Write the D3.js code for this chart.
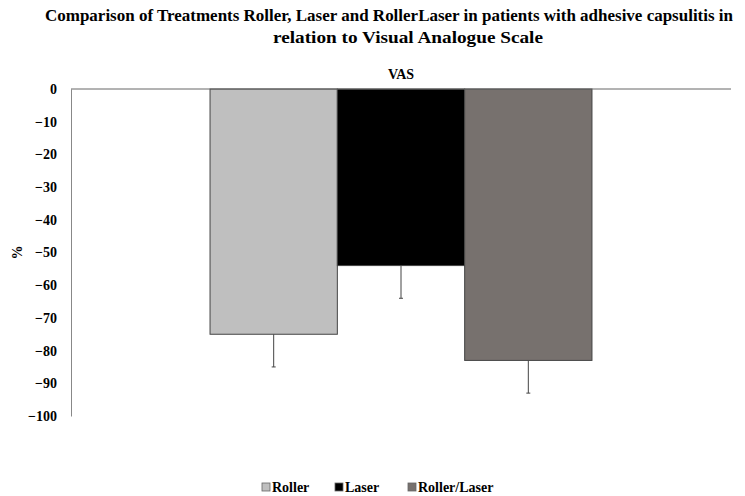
<!DOCTYPE html>
<html lang="en">
<head>
    <meta charset="UTF-8">
    <title>VAS</title>
    <script src="https://cdnjs.cloudflare.com/ajax/libs/d3/7.8.5/d3.min.js"></script>
    <style>
        body { margin: 0; background: #fff; }
    </style>
</head>
<body>
    <svg width="745" height="496"></svg>
    <script>
        "use strict";

        const categories = ["VAS"];
        const series = ["Roller", "Laser", "Roller/Laser"];
        const means = [-75, -54, -83];
        const errors = [10, 10, 10];
        const tickValues = [0, -10, -20, -30, -40, -50, -60, -70, -80, -90, -100];
        const colors = ["#bfbfbf", "#000000", "#77716e"];

        const FONT = "Liberation Serif";
        const svg = d3.select("svg");
        const margin = { left: 71, right: 14, top: 89, bottom: 79 };
        const width = 745, height = 496;

        const x = d3.scaleBand().domain(categories).range([margin.left, width - margin.right]).paddingInner(0).paddingOuter(0.364);
        const xs = d3.scaleBand().domain(series).range([0, x.bandwidth()]);
        const y = d3.scaleLinear().domain([0, -100]).range([margin.top, height - margin.bottom - 1]);

        // title
        svg.append("text")
            .attr("x", 389).attr("y", 21)
            .attr("text-anchor", "middle")
            .attr("font-family", FONT).attr("font-weight", "bold").attr("font-size", 17)
            .attr("textLength", 688).attr("lengthAdjust", "spacingAndGlyphs")
            .text("Comparison of Treatments Roller, Laser and RollerLaser in patients with adhesive capsulitis in");
        svg.append("text")
            .attr("x", 408).attr("y", 43)
            .attr("text-anchor", "middle")
            .attr("font-family", FONT).attr("font-weight", "bold").attr("font-size", 17)
            .attr("textLength", 270).attr("lengthAdjust", "spacingAndGlyphs")
            .text("relation to Visual Analogue Scale");

        svg.append("text")
            .attr("x", x("VAS") + x.bandwidth() / 2).attr("y", 79)
            .attr("text-anchor", "middle")
            .attr("font-family", FONT).attr("font-weight", "bold").attr("font-size", 14)
            .text("VAS");

        // bars
        const g = svg.append("g").attr("transform", `translate(${x("VAS")},0)`);
        g.selectAll("rect")
            .data(series)
            .enter()
            .append("rect")
            .attr("x", d => xs(d))
            .attr("width", xs.bandwidth())
            .attr("y", y(0))
            .attr("height", (d, i) => y(means[i]) - y(0))
            .attr("fill", (d, i) => colors[i])
            .attr("stroke", "#444")
            .attr("stroke-width", 1);

        // error bars (downward only)
        const eb = g.selectAll("g.err")
            .data(series)
            .enter()
            .append("g").attr("class", "err");
        eb.append("line")
            .attr("x1", d => xs(d) + xs.bandwidth() / 2)
            .attr("x2", d => xs(d) + xs.bandwidth() / 2)
            .attr("y1", (d, i) => y(means[i]))
            .attr("y2", (d, i) => y(means[i] - errors[i]))
            .attr("stroke", "#444").attr("stroke-width", 1);
        eb.append("line")
            .attr("x1", d => xs(d) + xs.bandwidth() / 2 - 2)
            .attr("x2", d => xs(d) + xs.bandwidth() / 2 + 2)
            .attr("y1", (d, i) => y(means[i] - errors[i]))
            .attr("y2", (d, i) => y(means[i] - errors[i]))
            .attr("stroke", "#444").attr("stroke-width", 1);

        // y axis
        const yAxis = svg.append("g")
            .attr("transform", `translate(${margin.left},0)`)
            .call(d3.axisLeft(y).tickValues(tickValues).tickSize(0).tickPadding(14))
            .attr("font-family", FONT).attr("font-size", 14).attr("font-weight", "bold");
        yAxis.select(".domain").attr("stroke", "#888");
        yAxis.selectAll("text").attr("fill", "#000");

        // zero line
        svg.append("line")
            .attr("x1", margin.left).attr("x2", width - margin.right)
            .attr("y1", y(0)).attr("y2", y(0))
            .attr("stroke", "#666");

        svg.append("text")
            .attr("transform", `translate(22,${y(-50)}) rotate(-90)`)
            .attr("text-anchor", "middle")
            .attr("font-family", FONT).attr("font-weight", "bold").attr("font-size", 14)
            .text("%");

        // legend
        const legendX = [262, 335, 408];
        const leg = svg.selectAll("g.legend")
            .data(series)
            .enter()
            .append("g").attr("class", "legend")
            .attr("transform", (d, i) => `translate(${legendX[i]},483)`);
        leg.append("rect")
            .attr("width", 8).attr("height", 8)
            .attr("fill", (d, i) => colors[i])
            .attr("stroke", "#666").attr("stroke-width", 0.8);
        leg.append("text")
            .attr("x", 10).attr("y", 8.5)
            .attr("font-family", FONT).attr("font-weight", "bold").attr("font-size", 14)
            .text(d => d);
    </script>
</body>
</html>
